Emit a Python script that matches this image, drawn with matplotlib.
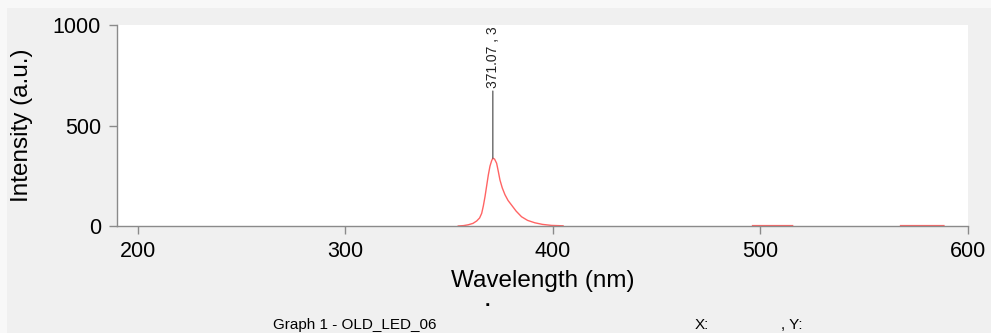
import numpy as np
import matplotlib
matplotlib.use("Agg")
import matplotlib.pyplot as plt
from matplotlib.patches import Rectangle

plt.rcParams['font.family'] = ['Liberation Sans', 'DejaVu Sans']

# spectrum; NaN marks gaps where nothing is drawn
wavelength = [354.4, 357.0, 359.2, 361.5, 363.3, 364.7, 365.7, 366.5, 367.3, 368.1,
              368.9, 369.7, 370.5, 371.07, 371.9, 372.9, 373.7, 374.5, 375.6, 376.9,
              378.4, 380.1, 382.3, 384.9, 387.8, 391.3, 395.0, 399.3, 404.9,
              np.nan,
              496.2, 500.0, 505.0, 510.0, 515.5,
              np.nan,
              567.5, 572.0, 578.0, 583.0, 588.4]
intensity = [0, 2, 6, 13, 25, 40, 63, 100, 146, 200,
             254, 298, 325, 337, 333, 312, 272, 229, 190, 156,
             127, 104, 74, 46, 28, 16, 8, 3, 1,
             np.nan,
             2, 2, 2, 2, 2,
             np.nan,
             2, 2, 2, 2, 2]

peak_x = 371.07
peak_y = 337
peak_label = '371.07 , 3'   # the rest of the label is cut off by the plot top

x_ticks = [200, 300, 400, 500, 600]
y_ticks = [0, 500, 1000]

fig = plt.figure(figsize=(9.91, 3.33), dpi=100)
fig.patch.set_facecolor('#f0f0f0')
# light outer strips at the top and left edge
fig.patches.append(Rectangle((0, 1 - 8 / 333), 1, 8 / 333, transform=fig.transFigure,
                             facecolor='#f8f8f8', edgecolor='none', zorder=-1))
fig.patches.append(Rectangle((0, 0), 7 / 991, 1, transform=fig.transFigure,
                             facecolor='#f8f8f8', edgecolor='none', zorder=-1))

ax = fig.add_axes([117 / 991, 107 / 333, 851 / 991, 201 / 333])
ax.set_facecolor('white')

ax.plot(wavelength, intensity, color='#ff6464', lw=1.0)

ax.annotate(peak_label, xy=(peak_x, peak_y),
            xytext=(0, 70), textcoords='offset pixels',
            rotation=90, ha='center', va='bottom', fontsize=10, color='#222222',
            arrowprops=dict(arrowstyle='-', color='#555555', lw=0.9,
                            shrinkA=0, shrinkB=0))

ax.set_xlim(190, 600)
ax.set_ylim(0, 1000)
ax.set_xticks(x_ticks)
ax.set_yticks(y_ticks)

for side in ['top', 'right']:
    ax.spines[side].set_visible(False)
for side in ['left', 'bottom']:
    ax.spines[side].set_color('#8a8a8a')
    ax.spines[side].set_linewidth(1.0)
ax.tick_params(colors='#8a8a8a', labelcolor='black', labelsize=15.5,
               length=5.5, width=1.0, direction='out')
ax.tick_params(axis='x', pad=5)
ax.tick_params(axis='y', pad=6)

ax.set_xlabel('Wavelength (nm)', fontsize=17.5, labelpad=6)
ax.set_ylabel('Intensity (a.u.)', fontsize=17.5, labelpad=14)

# status line under the chart
fig.text(273 / 991, 1 - 325 / 333, 'Graph 1 - OLD_LED_06', fontsize=11, va='center')
fig.text(695 / 991, 1 - 325 / 333, 'X:', fontsize=11, va='center')
fig.text(781 / 991, 1 - 325 / 333, ', Y:', fontsize=11, va='center')
fig.text(487 / 991, 1 - 302 / 333, '.', fontsize=14, fontweight='bold',
         ha='center', va='center')

fig.savefig('out.png', dpi=100, facecolor=fig.get_facecolor())
